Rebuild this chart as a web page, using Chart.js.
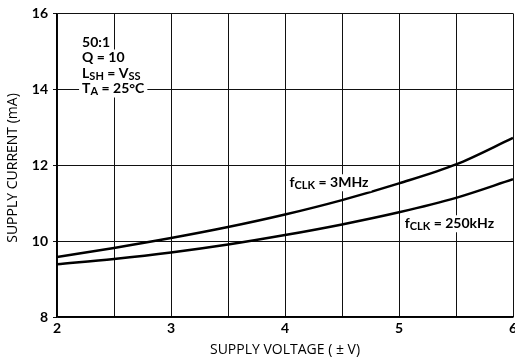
<!DOCTYPE html>
<html lang="en">
<head>
  <meta charset="UTF-8" />
  <title>Supply current vs supply voltage</title>
  <script src="https://cdn.jsdelivr.net/npm/chart.js"></script>
  <style>
    body { margin: 0; background: #fff; }
    canvas { display: block; }
  </style>
</head>
<body>
  <canvas id="chart" width="515" height="358"></canvas>

  <script>
    // values
    const voltage = [2, 2.5, 3, 3.5, 4, 4.5, 5, 5.5, 6];
    const current3MHz = [9.58, 9.82, 10.08, 10.37, 10.7, 11.08, 11.52, 12.02, 12.72];
    const current250kHz = [9.39, 9.53, 9.7, 9.91, 10.16, 10.44, 10.76, 11.14, 11.63];
    const seriesLabels = ['f_{CLK} = 3MHz', 'f_{CLK} = 250kHz'];
    const conditions = ['50:1', 'Q = 10', 'L_{SH} = V_{SS}', 'T_{A} = 25°C'];

    const FONT = 'Lato, "Open Sans", sans-serif';
    const TITLE_FONT = '"Open Sans", Lato, sans-serif';

    // text with _{...} subscripts, drawn on a white box
    function runs(str) {
      const out = [];
      const re = /_\{([^}]*)\}/g;
      let last = 0, m;
      while ((m = re.exec(str))) {
        if (m.index > last) out.push([str.slice(last, m.index), false]);
        out.push([m[1], true]);
        last = re.lastIndex;
      }
      if (last < str.length) out.push([str.slice(last), false]);
      return out;
    }

    function drawRich(ctx, str, x, y) {
      const parts = runs(str);
      const big = 'bold 14px ' + FONT, small = 'bold 11px ' + FONT;
      let w = 0;
      parts.forEach(([t, sub]) => { ctx.font = sub ? small : big; w += ctx.measureText(t).width; });
      ctx.fillStyle = '#fff';
      ctx.fillRect(x - 3, y - 8, w + 6, 17);
      ctx.fillStyle = '#000';
      ctx.textBaseline = 'middle';
      ctx.textAlign = 'left';
      let cx = x;
      parts.forEach(([t, sub]) => {
        ctx.font = sub ? small : big;
        ctx.fillText(t, cx, sub ? y + 3 : y);
        cx += ctx.measureText(t).width;
      });
    }

    const notesPlugin = {
      id: 'notes',
      afterDatasetsDraw(chart) {
        const { ctx, scales: { x, y } } = chart;
        ctx.save();
        conditions.forEach((s, i) => drawRich(ctx, s, x.getPixelForValue(2.22), 42 + i * 15.5));
        drawRich(ctx, seriesLabels[0], x.getPixelForValue(4.04), y.getPixelForValue(11.55));
        drawRich(ctx, seriesLabels[1], x.getPixelForValue(5.05), y.getPixelForValue(10.47));

        // y axis title
        ctx.translate(13, 168);
        ctx.rotate(-Math.PI / 2);
        ctx.font = '14px ' + TITLE_FONT;
        ctx.fillStyle = '#000';
        ctx.textAlign = 'center';
        ctx.textBaseline = 'middle';
        ctx.fillText('SUPPLY CURRENT (mA)', 0, 0);
        ctx.restore();
      }
    };

    const ctx = document.getElementById('chart').getContext('2d');
    new Chart(ctx, {
      type: 'line',
      data: {
        datasets: [
          {
            label: '3MHz',
            data: voltage.map((v, i) => ({ x: v, y: current3MHz[i] })),
            borderColor: '#000',
            borderWidth: 2.5,
            pointRadius: 0,
            cubicInterpolationMode: 'monotone'
          },
          {
            label: '250kHz',
            data: voltage.map((v, i) => ({ x: v, y: current250kHz[i] })),
            borderColor: '#000',
            borderWidth: 2.5,
            pointRadius: 0,
            cubicInterpolationMode: 'monotone'
          }
        ]
      },
      options: {
        responsive: false,
        animation: false,
        layout: { padding: { top: 12, right: 2, left: 0, bottom: 0 } },
        plugins: { legend: { display: false }, tooltip: { enabled: false } },
        scales: {
          x: {
            type: 'linear',
            min: 2, max: 6,
            afterFit: s => { s.height = 41; s.paddingRight = 0; s.paddingLeft = 0; },
            border: { color: '#000', width: 1.5 },
            grid: { color: '#111', lineWidth: 1, drawTicks: false },
            ticks: {
              stepSize: 0.5,
              padding: 3,
              color: '#000',
              font: { family: FONT, size: 14, weight: 'bold' },
              callback: v => Number.isInteger(v) ? v : ''
            },
            title: {
              display: true,
              text: 'SUPPLY VOLTAGE ( ± V)',
              color: '#000',
              font: { family: TITLE_FONT, size: 14 },
              padding: { top: 0, bottom: 0 }
            }
          },
          y: {
            min: 8, max: 16,
            afterFit: s => { s.width = 57; },
            border: { color: '#000', width: 1.5 },
            grid: { color: '#111', lineWidth: 1, tickLength: 4 },
            ticks: {
              stepSize: 2,
              padding: 5,
              color: '#000',
              font: { family: FONT, size: 14, weight: 'bold' }
            }
          }
        }
      },
      plugins: [notesPlugin]
    });
  </script>
</body>
</html>
